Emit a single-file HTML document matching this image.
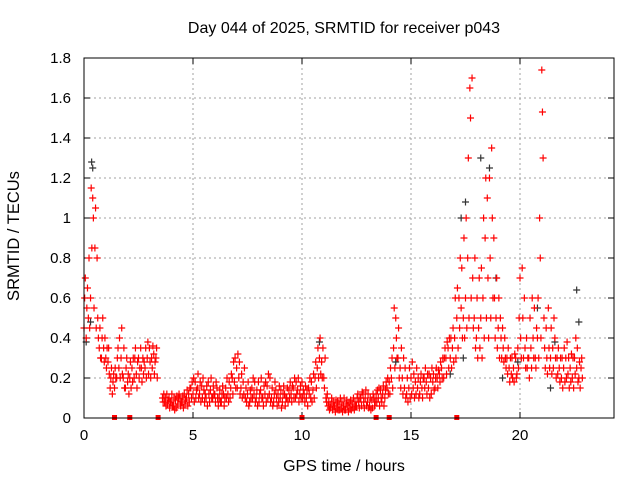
<!DOCTYPE html>
<html><head><meta charset="utf-8">
<style>
body{margin:0;background:#fff;}
svg{display:block;font-family:"Liberation Sans",sans-serif;}
</style></head>
<body>
<svg id="chart" width="640" height="480">
<rect x="0" y="0" width="640" height="480" fill="#fff"/>
<g id="grid"></g>
<g id="axes"></g>
<g id="marks-black"></g>
<g id="marks-red"></g>
<rect x="84" y="58" width="530" height="360" fill="none" stroke="#000" stroke-width="1"/>
<text x="344" y="33" text-anchor="middle" font-size="16">Day 044 of 2025, SRMTID for receiver p043</text>
<text x="344" y="471" text-anchor="middle" font-size="16">GPS time / hours</text>
<text transform="translate(19,236) rotate(-90)" text-anchor="middle" font-size="16.5">SRMTID / TECUs</text>
</svg>
<script>
const xTicks=[0,5,10,15,20];
const yTicks=[0,0.2,0.4,0.6,0.8,1,1.2,1.4,1.6,1.8];
const yTickLabels=["0","0.2","0.4","0.6","0.8","1","1.2","1.4","1.6","1.8"];
const redHours=[0.0,0.1,0.2,0.3,0.4,0.5,0.6,0.7,0.8,0.9,1.0,1.1,1.2,1.3,1.4,1.5,1.6,1.7,1.8,1.9,2.0,2.1,2.2,2.3,2.4,2.5,2.6,2.7,2.8,2.9,3.0,3.1,3.2,3.3,3.6,3.7,3.8,3.9,4.0,4.1,4.2,4.3,4.4,4.5,4.6,4.7,4.8,4.9,5.0,5.1,5.2,5.3,5.4,5.5,5.6,5.7,5.8,5.9,6.0,6.1,6.2,6.3,6.4,6.5,6.6,6.7,6.8,6.9,7.0,7.1,7.2,7.3,7.4,7.5,7.6,7.7,7.8,7.9,8.0,8.1,8.2,8.3,8.4,8.5,8.6,8.7,8.8,8.9,9.0,9.1,9.2,9.3,9.4,9.5,9.6,9.7,9.8,9.9,10.0,10.1,10.2,10.3,10.4,10.5,10.6,10.7,10.8,10.9,11.0,11.1,11.2,11.3,11.4,11.5,11.6,11.7,11.8,11.9,12.0,12.1,12.2,12.3,12.4,12.5,12.6,12.7,12.8,12.9,13.0,13.1,13.2,13.3,13.4,13.5,13.6,13.7,13.8,13.9,14.0,14.1,14.2,14.3,14.4,14.5,14.6,14.7,14.8,14.9,15.0,15.1,15.2,15.3,15.4,15.5,15.6,15.7,15.8,15.9,16.0,16.1,16.2,16.3,16.4,16.5,16.6,16.7,16.8,16.9,17.0,17.1,17.2,17.3,17.4,17.5,17.6,17.7,17.8,17.9,18.0,18.1,18.2,18.3,18.4,18.5,18.6,18.7,18.8,18.9,19.0,19.1,19.2,19.3,19.4,19.5,19.6,19.7,19.8,19.9,20.0,20.1,20.2,20.3,20.4,20.5,20.6,20.7,20.8,20.9,21.0,21.1,21.2,21.3,21.4,21.5,21.6,21.7,21.8,21.9,22.0,22.1,22.2,22.3,22.4,22.5,22.6,22.7,22.8];
const redValues=[[.45,.6,.7],[.4,.55,.65],[.5,.8,.45],[.6,1.15,.85],[1.1,1.0,.55],[.85,1.05,.45],[.8,.5,.4],[.35,.45,.3],[.3,.4,.5],[.35,.28,.4],[.3,.25,.35],[.28,.35,.22],[.15,.2,.25],[.12,.18,.22],[.15,.25,.2],[.2,.3,.35],[.25,.4,.2],[.3,.45,.22],[.2,.35,.15],[.15,.25,.3],[.18,.22,.12],[.2,.28,.15],[.25,.18,.3],[.2,.3,.35],[.22,.15,.28],[.3,.2,.25],[.35,.25,.18],[.3,.22,.28],[.25,.35,.2],[.3,.38,.22],[.35,.28,.2],[.3,.25,.36],[.32,.22,.28],[.3,.35,.2],[.1,.08,.12],[.08,.1,.06],[.12,.07,.09],[.1,.05,.08],[.08,.12,.06],[.06,.1,.04],[.09,.05,.11],[.07,.1,.12],[.1,.06,.08],[.08,.11,.05],[.12,.07,.09],[.1,.14,.06],[.12,.08,.15],[.15,.1,.18],[.12,.2,.08],[.18,.1,.14],[.15,.22,.1],[.12,.18,.08],[.16,.1,.2],[.14,.08,.12],[.1,.16,.06],[.18,.12,.08],[.14,.2,.1],[.1,.16,.12],[.12,.08,.18],[.15,.1,.06],[.1,.14,.08],[.08,.12,.16],[.12,.06,.1],[.15,.1,.2],[.12,.08,.18],[.1,.15,.22],[.2,.12,.28],[.18,.3,.15],[.25,.15,.32],[.2,.28,.12],[.15,.22,.1],[.18,.12,.25],[.1,.15,.08],[.12,.18,.06],[.08,.14,.1],[.15,.1,.2],[.12,.18,.08],[.1,.14,.06],[.18,.08,.12],[.14,.2,.1],[.1,.06,.16],[.12,.18,.08],[.16,.1,.22],[.12,.2,.08],[.1,.15,.06],[.08,.12,.18],[.14,.1,.06],[.12,.08,.16],[.1,.14,.05],[.08,.12,.16],[.12,.06,.1],[.1,.15,.08],[.14,.1,.18],[.12,.08,.16],[.15,.1,.2],[.1,.18,.12],[.14,.2,.08],[.12,.16,.1],[.18,.1,.14],[.12,.08,.16],[.1,.14,.06],[.15,.12,.2],[.1,.18,.08],[.14,.22,.1],[.2,.28,.15],[.25,.35,.2],[.3,.4,.22],[.28,.2,.35],[.2,.15,.3],[.1,.08,.12],[.06,.08,.04],[.05,.07,.1],[.04,.08,.06],[.06,.03,.09],[.05,.08,.04],[.07,.04,.1],[.05,.08,.03],[.06,.1,.04],[.04,.07,.09],[.06,.03,.08],[.05,.09,.04],[.07,.05,.1],[.04,.08,.06],[.06,.1,.12],[.08,.05,.1],[.1,.06,.13],[.12,.08,.05],[.1,.14,.06],[.08,.12,.05],[.06,.1,.04],[.09,.05,.12],[.1,.06,.08],[.12,.08,.14],[.1,.15,.06],[.14,.1,.08],[.12,.16,.06],[.1,.14,.18],[.15,.2,.12],[.18,.12,.25],[.2,.3,.15],[.35,.55,.25],[.5,.4,.3],[.3,.45,.2],[.25,.15,.35],[.2,.12,.3],[.15,.25,.1],[.12,.2,.08],[.15,.25,.1],[.2,.12,.28],[.15,.22,.1],[.18,.12,.25],[.15,.2,.1],[.12,.18,.22],[.15,.1,.2],[.2,.15,.25],[.18,.12,.22],[.15,.22,.1],[.2,.12,.25],[.18,.22,.14],[.15,.2,.25],[.2,.15,.24],[.22,.18,.28],[.25,.2,.3],[.2,.3,.35],[.3,.22,.38],[.35,.25,.4],[.3,.4,.25],[.35,.45,.28],[.4,.6,.3],[.5,.65,.35],[.6,.45,.8],[.55,.75,.4],[.5,.9,.4],[.6,1.0,.45],[.8,1.3,.5],[1.65,1.5,.6],[1.7,.7,.45],[.5,.8,.35],[.4,.6,.3],[.45,.7,.35],[.5,.75,.3],[.6,1.0,.4],[.9,1.2,.5],[1.1,.7,.4],[1.2,.8,.5],[1.35,1.0,.6],[.9,.6,.4],[.5,.7,.35],[.45,.6,.3],[.5,.4,.3],[.45,.35,.28],[.4,.3,.25],[.3,.22,.35],[.25,.18,.3],[.22,.3,.2],[.25,.18,.32],[.3,.2,.22],[.35,.25,.5],[.7,.4,.3],[.75,.5,.3],[.6,.35,.25],[.4,.25,.3],[.3,.2,.5],[.35,.25,.6],[.4,.3,.55],[.3,.25,.45],[.4,.6,.3],[1.0,.8,.4],[1.74,1.53,1.3],[.5,.35,.25],[.45,.3,.22],[.55,.35,.25],[.3,.45,.22],[.35,.25,.5],[.4,.3,.2],[.3,.22,.35],[.25,.18,.3],[.2,.3,.15],[.25,.35,.18],[.3,.2,.38],[.22,.3,.15],[.25,.18,.32],[.2,.3,.15],[.3,.22,.4],[.25,.35,.18],[.2,.28,.15],[.25,.3,.2]];
const blackHours=[0.1,0.3,0.35,0.4,10.8,14.3,16.8,17.3,17.4,17.5,18.2,18.6,18.9,19.2,19.9,20.8,21.4,21.6,22.6,22.7];
const blackValues=[0.38,0.48,1.28,1.25,0.38,0.28,0.22,1.0,0.3,1.08,1.3,1.25,0.7,0.2,0.28,0.55,0.15,0.38,0.64,0.48];
const squareHours=[1.4,2.1,3.4,10.0,13.4,14.0,17.1];

const NS="http://www.w3.org/2000/svg";
const L=84,R=614,T=58,B=418,XMAX=(R-L)/21.8;
function xs(h){return L+h/XMAX*(R-L);}
function ys(v){return B-v/1.8*(B-T);}
function mk(tag,attrs,parent){const e=document.createElementNS(NS,tag);for(const k in attrs)e.setAttribute(k,attrs[k]);parent.appendChild(e);return e;}
const grid=document.getElementById('grid'),axes=document.getElementById('axes');
yTicks.forEach((v,i)=>{
  const y=ys(v);
  if(i>0&&i<yTicks.length-1){const g=mk('line',{x1:L,x2:R,y1:y,y2:y,stroke:'#a0a0a0','stroke-dasharray':'2,3'},grid);}
  mk('line',{x1:L,x2:L+6,y1:y,y2:y,stroke:'#000'},axes);
  mk('line',{x1:R,x2:R-6,y1:y,y2:y,stroke:'#000'},axes);
  const t=mk('text',{x:L-13,y:y+5,'text-anchor':'end','font-size':15},axes);t.textContent=yTickLabels[i];
  
  
});
xTicks.forEach(h=>{
  const x=xs(h);
  if(h>0){const g=mk('line',{x1:x,x2:x,y1:T,y2:B,stroke:'#a0a0a0','stroke-dasharray':'2,3'},grid);}
  mk('line',{x1:x,x2:x,y1:B,y2:B-6,stroke:'#000'},axes);
  mk('line',{x1:x,x2:x,y1:T,y2:T+6,stroke:'#000'},axes);
  const t=mk('text',{x:x,y:B+22,'text-anchor':'middle','font-size':15},axes);t.textContent=String(h);
  
  
});
function plus(g,x,y,color){
  const p=mk('path',{d:`M${x-3.5},${y}H${x+3.5}M${x},${y-3.5}V${y+3.5}`,stroke:color,'stroke-width':1.2,fill:'none'},g);
  
  
}
const gb=document.getElementById('marks-black'),gr=document.getElementById('marks-red');
blackHours.forEach((h,i)=>plus(gb,xs(h),ys(blackValues[i]),'#333'));
redHours.forEach((h,i)=>redValues[i].forEach((v,j)=>plus(gr,xs(h+j*0.03),ys(v),'#ff0000')));
squareHours.forEach(h=>{
  const s=mk('rect',{x:xs(h)-2.5,y:B-3,width:5,height:5,fill:'#ff0000'},gr);
  
  
});
</script>
</body></html>
